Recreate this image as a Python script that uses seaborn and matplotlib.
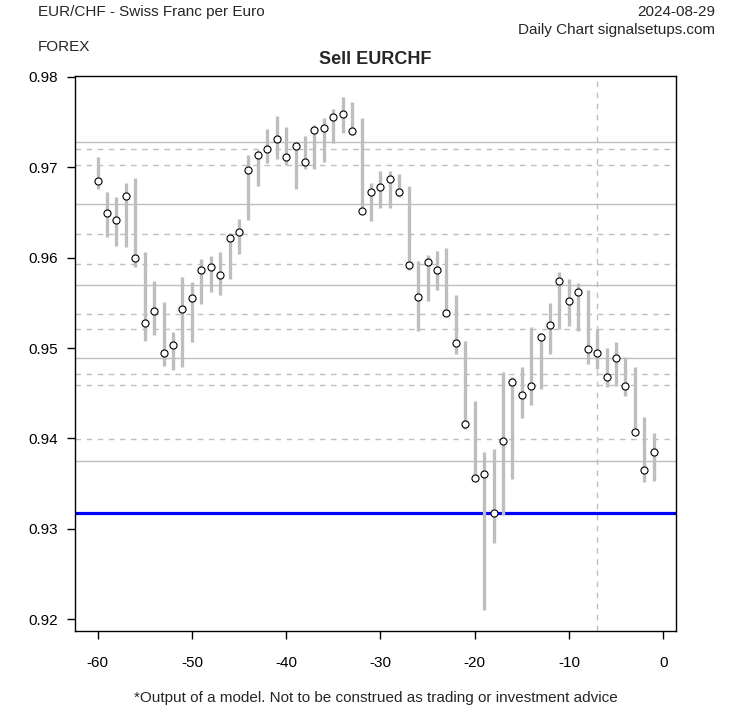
import pandas as pd
import matplotlib
matplotlib.use("Agg")
import matplotlib.pyplot as plt
import seaborn as sns

# ---------------- data ----------------
days = list(range(-60, 0))

highs = [0.97119, 0.96722, 0.96674, 0.96821, 0.96884, 0.96066, 0.95746, 0.95514, 0.95182, 0.95782,
         0.95735, 0.95989, 0.96014, 0.96066, 0.96269, 0.96423, 0.97135, 0.97190, 0.97425, 0.97572,
         0.97451, 0.97285, 0.97351, 0.97466, 0.97544, 0.97650, 0.97782, 0.97720, 0.97550, 0.96821,
         0.96956, 0.96958, 0.96931, 0.96788, 0.95959, 0.96025, 0.96070, 0.96103, 0.95591, 0.95075,
         0.94420, 0.93849, 0.93878, 0.94740, 0.94682, 0.94788, 0.95230, 0.95168, 0.95499, 0.95845,
         0.95760, 0.95716, 0.95639, 0.95212, 0.94998, 0.95064, 0.94906, 0.94788, 0.94235, 0.94059]

lows = [0.96762, 0.96232, 0.96133, 0.96122, 0.95901, 0.95083, 0.95149, 0.94807, 0.94762, 0.94792,
        0.95069, 0.95484, 0.95621, 0.95591, 0.95768, 0.96044, 0.96420, 0.96796, 0.97053, 0.97094,
        0.97024, 0.96762, 0.96983, 0.96983, 0.97057, 0.97267, 0.97378, 0.97356, 0.96500, 0.96409,
        0.96550, 0.96553, 0.96666, 0.95867, 0.95193, 0.95525, 0.95646, 0.95367, 0.94939, 0.94110,
        0.93547, 0.92100, 0.92847, 0.93149, 0.93547, 0.94229, 0.94372, 0.94549, 0.94936, 0.95212,
        0.95249, 0.95193, 0.94829, 0.94770, 0.94564, 0.94575, 0.94475, 0.94060, 0.93517, 0.93528]

closes = [0.96848, 0.96494, 0.96417, 0.96682, 0.95997, 0.95278, 0.95411, 0.94947, 0.95035, 0.95433,
          0.95556, 0.95864, 0.95901, 0.95812, 0.96221, 0.96284, 0.96969, 0.97138, 0.97201, 0.97312,
          0.97116, 0.97234, 0.97057, 0.97411, 0.97433, 0.97555, 0.97591, 0.97403, 0.96512, 0.96729,
          0.96782, 0.96870, 0.96726, 0.95919, 0.95566, 0.95952, 0.95864, 0.95389, 0.95057, 0.94162,
          0.93566, 0.93610, 0.93171, 0.93975, 0.94627, 0.94478, 0.94578, 0.95124, 0.95252, 0.95740,
          0.95522, 0.95621, 0.94991, 0.94947, 0.94682, 0.94892, 0.94582, 0.94074, 0.93654, 0.93853]

solid_levels = [0.97282, 0.96594, 0.95698, 0.94892, 0.93754]
dashed_levels = [0.97201, 0.97022, 0.96262, 0.95930, 0.95378, 0.95212, 0.94715, 0.94593, 0.93997]
target_level = 0.93179
marker_day = -7

x_ticks = [-60, -50, -40, -30, -20, -10, 0]
y_ticks = [0.92, 0.93, 0.94, 0.95, 0.96, 0.97, 0.98]

df = pd.DataFrame({"day": days, "high": highs, "low": lows, "close": closes})

# ---------------- plot ----------------
sns.set_theme(style="white")
plt.rcParams["font.family"] = ["Liberation Sans", "DejaVu Sans"]

W, H = 753, 708
fig = plt.figure(figsize=(W / 100, H / 100), dpi=100)
ax = fig.add_axes([75 / W, 1 - 631 / H, (676 - 75) / W, (631 - 76) / H])

grey = "#BEBEBE"
for lvl in solid_levels:
    ax.axhline(lvl, color=grey, lw=1.0, zorder=1)
for lvl in dashed_levels:
    ax.axhline(lvl, color=grey, lw=1.0, ls=(0, (4, 4)), zorder=1)
ax.axvline(marker_day, color=grey, lw=1.0, ls=(0, (4, 4)), zorder=1)
ax.axhline(target_level, color="#0000FF", lw=2.3, zorder=2)

ax.vlines(df["day"], df["low"], df["high"], color=grey, lw=2.4, zorder=3)
sns.scatterplot(data=df, x="day", y="close", ax=ax, s=26, marker="o",
                facecolor="white", edgecolor="black", linewidth=0.8, zorder=4)

ax.set_xlim(-62.4, 1.36)
ax.set_ylim(0.9187, 0.9801)
ax.set_xticks(x_ticks)
ax.set_xticklabels([str(t) for t in x_ticks])
ax.set_yticks(y_ticks)
ax.set_yticklabels([f"{t:.2f}" for t in y_ticks])
ax.set_xlabel("")
ax.set_ylabel("")
ax.tick_params(axis="both", which="major", direction="out", length=6, width=1,
               color="black", labelsize=11, labelcolor="black")
ax.tick_params(axis="x", pad=12)
ax.tick_params(axis="y", pad=6)
ax.tick_params(bottom=True, left=True)
for sp in ax.spines.values():
    sp.set_color("black")
    sp.set_linewidth(1)
ax.grid(False)

def fy(py):
    return 1 - py / H

fig.text(38 / W, fy(12), "EUR/CHF - Swiss Franc per Euro", ha="left", va="center", fontsize=11)
fig.text(38 / W, fy(47), "FOREX", ha="left", va="center", fontsize=11)
fig.text(715 / W, fy(12), "2024-08-29", ha="right", va="center", fontsize=11)
fig.text(715 / W, fy(30), "Daily Chart signalsetups.com", ha="right", va="center", fontsize=11)
fig.text(375.5 / W, fy(60), "Sell EURCHF", ha="center", va="center", fontsize=13, fontweight="bold")
fig.text(375.5 / W, fy(698), "*Output of a model. Not to be construed as trading or investment advice",
         ha="center", va="center", fontsize=11)

fig.savefig("out.png", dpi=100, facecolor="white")
